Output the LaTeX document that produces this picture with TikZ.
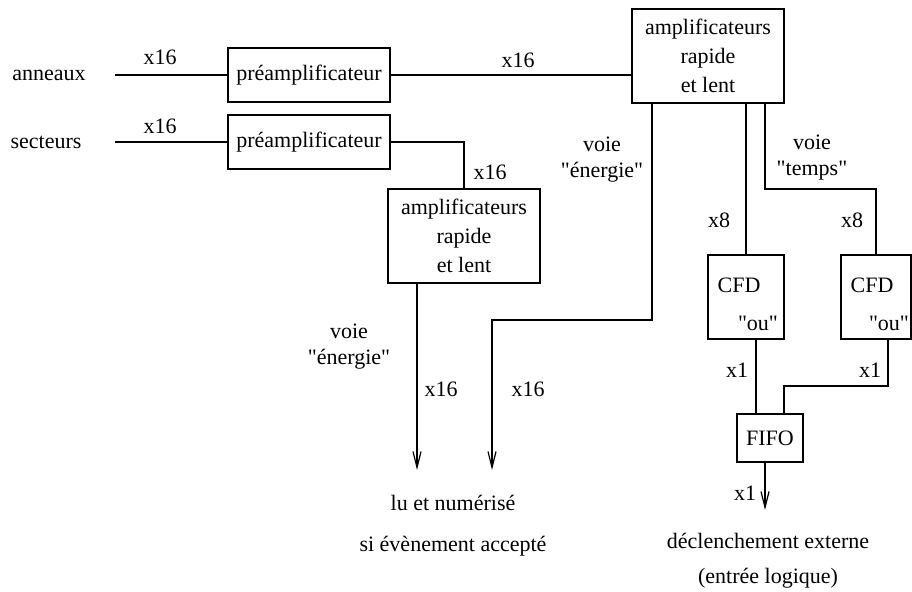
\documentclass[tikz,border=0pt]{standalone}
\usepackage{fontspec}
\setmainfont{Liberation Serif}[Ligatures=TeXOff]
\usetikzlibrary{arrows.meta,calc}

\begin{document}
\begin{tikzpicture}[x=0.5pt,y=-0.5pt]
\tikzset{
  blocknode/.style={draw=black,line width=0.6pt,inner sep=0pt,align=center,font=\fontsize{11}{14.5}\selectfont},
  textnode/.style={inner sep=0pt,align=center,font=\fontsize{11}{13}\selectfont},
  wire/.style={draw=black,line width=0.6pt},
  signal/.style={wire,-{Straight Barb[length=8pt,width=4pt]}}
}
\useasboundingbox (0,0) rectangle (912,592);
\node[textnode] (n_ann) at (49,75) {anneaux};
\node[textnode] (n_sec) at (46,142) {secteurs};
\node[blocknode,minimum width=81pt,minimum height=27pt] (n_pre1) at (309,75) {préamplificateur};
\node[blocknode,minimum width=81pt,minimum height=27pt] (n_pre2) at (309,142) {préamplificateur};
\node[blocknode,minimum width=76pt,minimum height=47pt] (n_ampA) at (708,56) {amplificateurs\\rapide\\et lent};
\node[blocknode,minimum width=76pt,minimum height=47pt] (n_ampB) at (464,236) {amplificateurs\\rapide\\et lent};
\node[blocknode,minimum width=38pt,minimum height=42pt] (n_cfdA) at (746,297) {};
\node[blocknode,minimum width=35pt,minimum height=42pt] (n_cfdB) at (876,297) {};
\node[blocknode,minimum width=33pt,minimum height=24pt] (n_fifo) at (770,438) {FIFO};
\node[textnode] (n_cfdA_t) at (739,285) {CFD};
\node[textnode] (n_cfdA_o) at (758,323) {"ou"};
\node[textnode] (n_cfdB_t) at (872,285) {CFD};
\node[textnode] (n_cfdB_o) at (889,323) {"ou"};
\coordinate (c_annIn) at (115,75);
\coordinate (c_secIn) at (115,142);
\coordinate (c_endA) at (417,470);
\coordinate (c_endB) at (492,470);
\coordinate (c_nrjTurn) at (652,320);
\coordinate (c_tpsOut) at (765,103);
\coordinate (c_tpsTurn) at (765,189);
\coordinate (c_orA) at (756,339);
\coordinate (c_orB) at (888,339);
\coordinate (c_orTurn) at (784,386);
\coordinate (c_trigOut) at (765,510);
\node[textnode] (n_lu) at (453,503) {lu et numérisé};
\node[textnode] (n_acc) at (453,546) {si évènement accepté};
\node[textnode] (n_decl) at (768,541) {déclenchement externe};
\node[textnode] (n_log) at (768,578) {(entrée logique)};
\node[textnode] at (160,57) {x16};
\node[textnode] at (160,126) {x16};
\node[textnode] at (518,60) {x16};
\node[textnode] at (490,172) {x16};
\node[textnode] at (441,389) {x16};
\node[textnode] at (528,389) {x16};
\node[textnode] at (719,220) {x8};
\node[textnode] at (852,220) {x8};
\node[textnode] at (737,370) {x1};
\node[textnode] at (870,370) {x1};
\node[textnode] at (745,493) {x1};
\node[textnode] at (349,347) {voie\\"énergie"};
\node[textnode] at (602,160) {voie\\"énergie"};
\node[textnode] at (812,158) {voie\\"temps"};
\draw[wire] (c_annIn) -- (n_pre1.west);
\draw[wire] (c_secIn) -- (n_pre2.west);
\draw[wire] (n_pre1.east) -- (n_ampA.west |- n_pre1.east);
\draw[wire] (n_pre2.east) -| (n_ampB.north);
\draw[signal] (n_ampB.south -| c_endA) -- (c_endA);
\draw[signal] (n_ampA.south -| c_nrjTurn) -- (c_nrjTurn) -| (c_endB);
\draw[wire] (n_ampA.south -| n_cfdA.north) -- (n_cfdA.north);
\draw[wire] (c_tpsOut) -- (c_tpsTurn) -| (n_cfdB.north);
\draw[wire] (c_orA) -- (n_fifo.north -| c_orA);
\draw[wire] (c_orB) |- (c_orTurn) -- (n_fifo.north -| c_orTurn);
\draw[signal] (n_fifo.south -| c_trigOut) -- (c_trigOut);
\end{tikzpicture}
\end{document}
